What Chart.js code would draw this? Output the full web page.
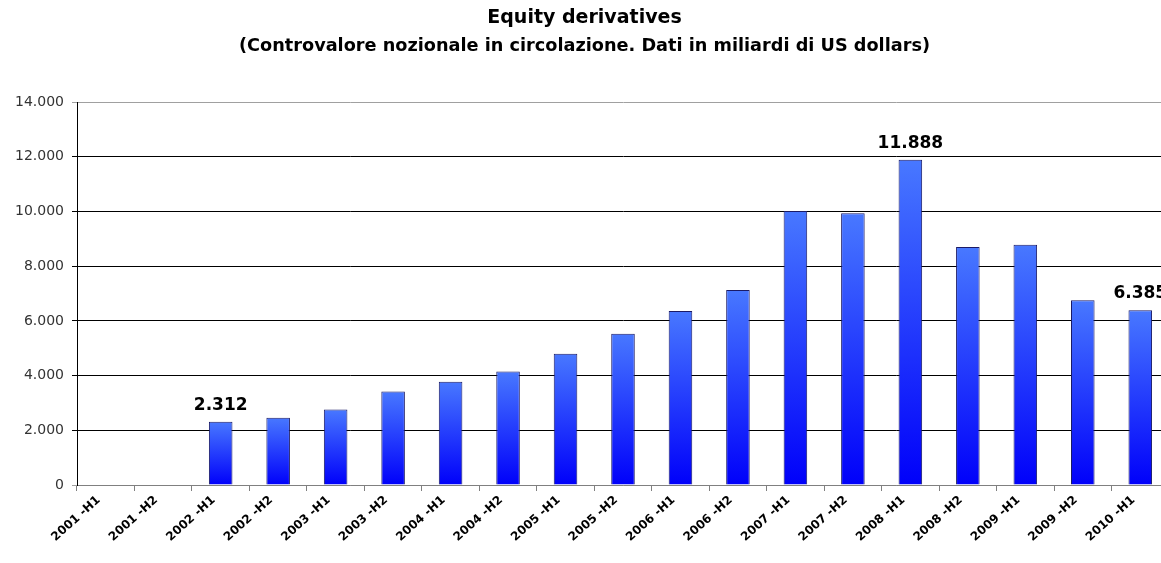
<!DOCTYPE html>
<html>
<head>
<meta charset="utf-8">
<script src="https://cdn.jsdelivr.net/npm/chart.js@4.4.0/dist/chart.umd.min.js"></script>
<style>
  html, body { margin: 0; padding: 0; background: #fff; overflow: hidden; }
  #wrap { width: 1170px; height: 563px; position: relative; }
</style>
</head>
<body>
<div id="wrap"><canvas id="c" width="1170" height="563"></canvas></div>
<script>
const categories = ["2001 -H1","2001 -H2","2002 -H1","2002 -H2","2003 -H1","2003 -H2","2004 -H1","2004 -H2","2005 -H1","2005 -H2","2006 -H1","2006 -H2","2007 -H1","2007 -H2","2008 -H1","2008 -H2","2009 -H1","2009 -H2","2010 -H1"];
const values = [null, null, 2312, 2462, 2764, 3418, 3770, 4145, 4800, 5527, 6364, 7127, 10020, 9930, 11888, 8700, 8780, 6753, 6385];
const annotatedLabels = [null, null, "2.312", null, null, null, null, null, null, null, null, null, null, null, "11.888", null, null, null, "6.385"];
const yTicks = [0, 2000, 4000, 6000, 8000, 10000, 12000, 14000];
const titleText = "Equity derivatives";
const subtitleText = "(Controvalore nozionale in circolazione. Dati in miliardi di US dollars)";

function fmt(v) { return String(v).replace(/\B(?=(\d{3})+(?!\d))/g, '.'); }

const barGradient = (ctx) => {
  const chart = ctx.chart;
  const ys = chart.scales && chart.scales.y;
  if (!ys || ctx.raw == null || ctx.type !== 'data') return '#2040ff';
  const top = ys.getPixelForValue(ctx.raw);
  const base = ys.getPixelForValue(0);
  const g = chart.ctx.createLinearGradient(0, top, 0, base);
  g.addColorStop(0, 'rgb(72,120,255)');
  g.addColorStop(1, 'rgb(0,0,250)');
  return g;
};

const labelPlugin = {
  id: 'valLabels',
  afterDatasetsDraw(chart) {
    const meta = chart.getDatasetMeta(0);
    const c = chart.ctx;
    c.save();
    c.font = 'bold 17px "DejaVu Sans", sans-serif';
    c.fillStyle = '#000';
    c.textAlign = 'center';
    c.textBaseline = 'alphabetic';
    meta.data.forEach((el, i) => {
      const t = annotatedLabels[i];
      if (!t) return;
      c.fillText(t, el.x, el.y - 12);
    });
    c.restore();
  }
};

new Chart(document.getElementById('c'), {
  type: 'bar',
  data: {
    labels: categories,
    datasets: [{
      data: values,
      backgroundColor: barGradient,
      borderColor: '#1a1a66',
      borderWidth: 1,
      borderSkipped: 'bottom',
      categoryPercentage: 1,
      barPercentage: 0.41
    }]
  },
  options: {
    responsive: false,
    animation: false,
    layout: { padding: { left: 0, right: 1, top: 0, bottom: 0 } },
    plugins: {
      legend: { display: false },
      tooltip: { enabled: false },
      title: {
        display: true,
        text: titleText,
        color: '#000',
        font: { family: '"DejaVu Sans", sans-serif', size: 19, weight: 'bold', lineHeight: 1.2 },
        padding: { top: 7, bottom: 0 }
      },
      subtitle: {
        display: true,
        text: subtitleText,
        color: '#000',
        font: { family: '"DejaVu Sans", sans-serif', size: 17.7, weight: 'bold', lineHeight: 1.2 },
        padding: { top: 6, bottom: 45 }
      }
    },
    scales: {
      x: {
        offset: true,
        grid: {
          offset: true,
          drawOnChartArea: false,
          drawTicks: true,
          tickLength: 6,
          color: '#808080'
        },
        border: { display: true, color: '#808080', width: 1 },
        ticks: {
          autoSkip: false,
          minRotation: 42,
          maxRotation: 42,
          padding: 2,
          labelOffset: -7,
          color: '#000',
          font: { family: '"DejaVu Sans", sans-serif', size: 12, weight: 'bold' }
        },
        afterFit(scale) { scale.height = 78; }
      },
      y: {
        min: 0,
        max: 14000,
        afterBuildTicks(scale) { scale.ticks = yTicks.map(v => ({ value: v })); },
        grid: {
          color: (ctx) => (ctx.index === 0 || ctx.index === yTicks.length - 1) ? '#a0a0a0' : '#000',
          lineWidth: 1,
          drawTicks: true,
          tickLength: 5
        },
        border: { display: true, color: '#000', width: 1 },
        ticks: {
          padding: 8,
          color: '#333',
          font: { family: '"DejaVu Sans", sans-serif', size: 14 },
          callback: (v) => fmt(v)
        },
        afterFit(scale) { scale.width = 77; }
      }
    }
  },
  plugins: [labelPlugin]
});
</script>
</body>
</html>
